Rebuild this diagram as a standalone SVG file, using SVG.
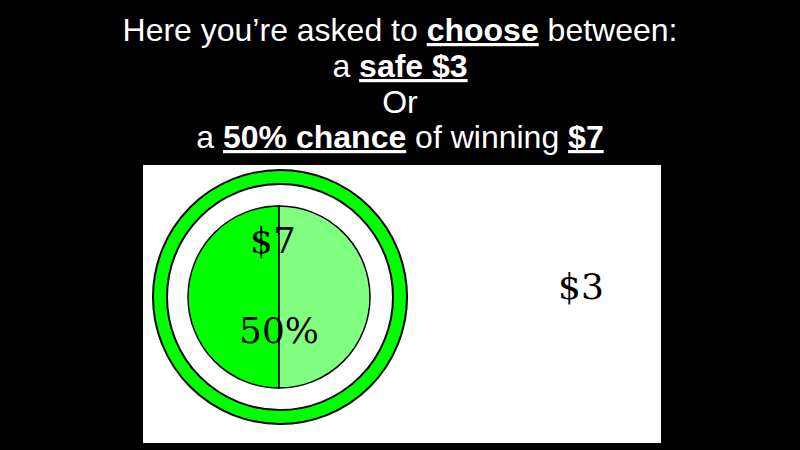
<svg xmlns="http://www.w3.org/2000/svg" width="800" height="450" viewBox="0 0 800 450">
<style>
.t{font-family:"Liberation Sans",Arial,sans-serif;font-size:32px;fill:#fff;text-anchor:middle}
.b{font-weight:bold;text-decoration:underline}
.s{font-family:"DejaVu Serif",serif;font-size:36px;fill:#000;text-anchor:middle}
</style>
<rect width="800" height="450" fill="#000"/>
<g id="title">
<text class="t" x="400" y="41">Here you’re asked to <tspan class="b">choose</tspan> between:</text>
<text class="t" x="400" y="77">a <tspan class="b">safe $3</tspan></text>
<text class="t" x="400" y="113">Or</text>
<text class="t" x="400" y="148">a <tspan class="b">50% chance</tspan> of winning <tspan class="b">$7</tspan></text>
</g>
<rect id="panel" x="143" y="165" width="518" height="278" fill="#fff"/>
<g id="gamble">
<circle cx="280" cy="297" r="127" fill="#00ff00" stroke="#000" stroke-width="2"/>
<circle cx="280" cy="297" r="113" fill="#fff" stroke="#000" stroke-width="2"/>
<path d="M279 206 A91 91 0 0 0 279 388 Z" fill="#00ff00" stroke="#000" stroke-width="1.5"/>
<path d="M279 206 A91 91 0 0 1 279 388 Z" fill="#80ff80" stroke="#000" stroke-width="1.5"/>
<text class="s" x="273" y="253">$7</text>
<text class="s" x="279" y="343">50%</text>
</g>
<g id="safe">
<text class="s" x="581" y="299">$3</text>
</g>
</svg>
